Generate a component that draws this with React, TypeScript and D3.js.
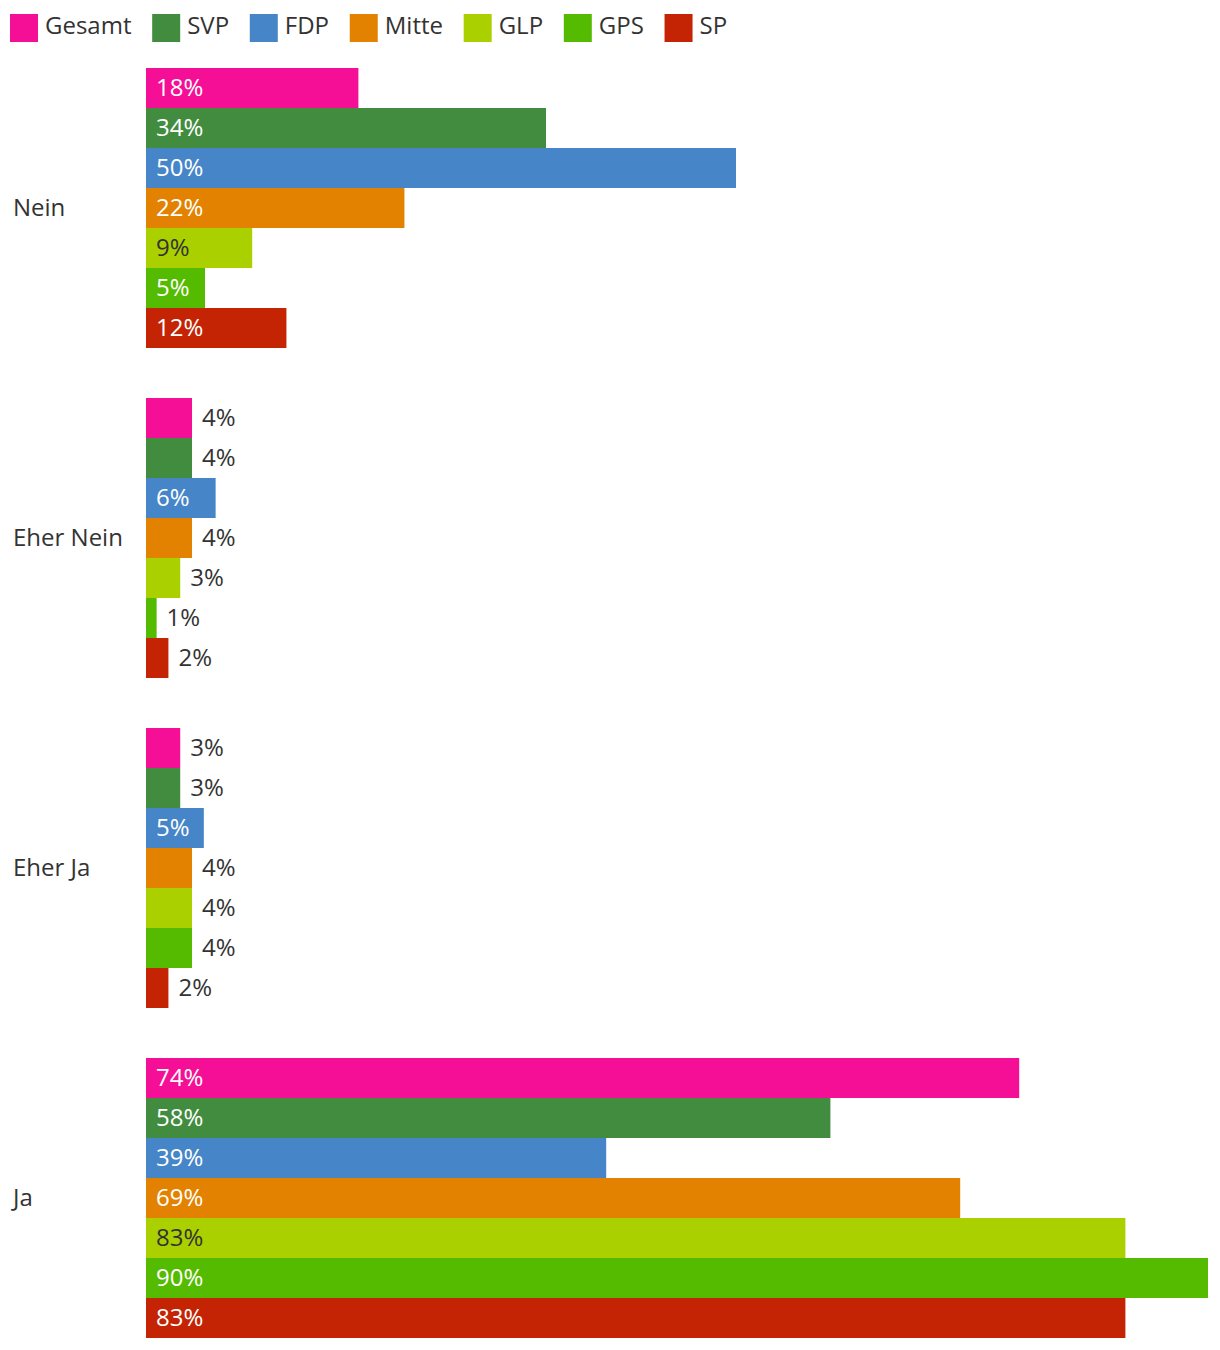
import React, { useEffect, useRef } from "react";
import * as d3 from "d3";

const categories = ["Nein", "Eher Nein", "Eher Ja", "Ja"];
const parties = ["Gesamt", "SVP", "FDP", "Mitte", "GLP", "GPS", "SP"];
const partyColors = ["#f50f96", "#428c40", "#4585c8", "#e38200", "#aad000", "#55bb00", "#c42404"];
const darkLabelParties = ["GLP"];
// values per category, in party order
const neinValues = [18, 33.9, 50, 21.9, 9, 5, 11.9];
const eherNeinValues = [3.9, 3.9, 5.9, 3.9, 2.9, 0.9, 1.9];
const eherJaValues = [2.9, 2.9, 4.9, 3.9, 3.9, 3.9, 1.9];
const jaValues = [74, 58, 39, 69, 83, 90, 83];
const labelNein = [18, 34, 50, 22, 9, 5, 12];
const labelEherNein = [4, 4, 6, 4, 3, 1, 2];
const labelEherJa = [3, 3, 5, 4, 4, 4, 2];
const labelJa = [74, 58, 39, 69, 83, 90, 83];

const W = 1220;
const H = 1350;
const FONT = "'Open Sans', sans-serif";
const TEXT = "#333333";
const FS = 24;

export default function App() {
  const ref = useRef<SVGSVGElement | null>(null);

  useEffect(() => {
    document.body.style.margin = "0";
    const svg = d3.select(ref.current);
    svg.selectAll("*").remove();

    const values = [neinValues, eherNeinValues, eherJaValues, jaValues];
    const labels = [labelNein, labelEherNein, labelEherJa, labelJa];

    const x = d3.scaleLinear().domain([0, 90]).range([146, 1208]);
    const groupY = (c: string) => 68 + categories.indexOf(c) * 330;
    const y1 = d3.scaleBand().domain(parties).range([0, 280]).padding(0);

    const color = d3.scaleOrdinal<string, string>().domain(parties).range(partyColors);

    // Legend
    const legend = svg.append("g");
    let lx = 10;
    parties.forEach((p) => {
      const g = legend.append("g").attr("transform", `translate(${lx},0)`);
      g.append("rect").attr("x", 0).attr("y", 14).attr("width", 28).attr("height", 28).attr("fill", color(p));
      const t = g
        .append("text")
        .attr("x", 35)
        .attr("y", 26)
        .attr("dy", "0.35em")
        .attr("font-family", FONT)
        .attr("font-size", FS)
        .attr("fill", TEXT)
        .text(p);
      const w = (t.node() as SVGTextElement).getComputedTextLength();
      lx += 35 + w + 20.7;
    });

    // Category labels
    categories.forEach((c) => {
      svg
        .append("text")
        .attr("x", 13)
        .attr("y", groupY(c) + 140)
        .attr("dy", "0.35em")
        .attr("font-family", FONT)
        .attr("font-size", FS)
        .attr("fill", TEXT)
        .text(c);
    });

    // Bars
    categories.forEach((c, ci) => {
      const g = svg.append("g").attr("transform", `translate(0,${groupY(c)})`);
      parties.forEach((p, pi) => {
        const v = values[ci][pi];
        const yy = y1(p) as number;
        const bw = x(v) - x(0);
        g.append("rect")
          .attr("x", x(0))
          .attr("y", yy)
          .attr("width", bw)
          .attr("height", y1.bandwidth())
          .attr("fill", color(p));
        const t = g
          .append("text")
          .attr("y", yy + y1.bandwidth() / 2)
          .attr("dy", "0.35em")
          .attr("font-family", FONT)
          .attr("font-size", FS)
          .text(`${labels[ci][pi]}%`);
        const tw = (t.node() as SVGTextElement).getComputedTextLength();
        if (tw + 20 <= bw) {
          t.attr("x", x(0) + 10).attr("fill", darkLabelParties.includes(p) ? TEXT : "#ffffff");
        } else {
          t.attr("x", x(v) + 10).attr("fill", TEXT);
        }
      });
    });
  }, []);

  return <svg ref={ref} width={W} height={H} style={{ display: "block" }} />;
}
